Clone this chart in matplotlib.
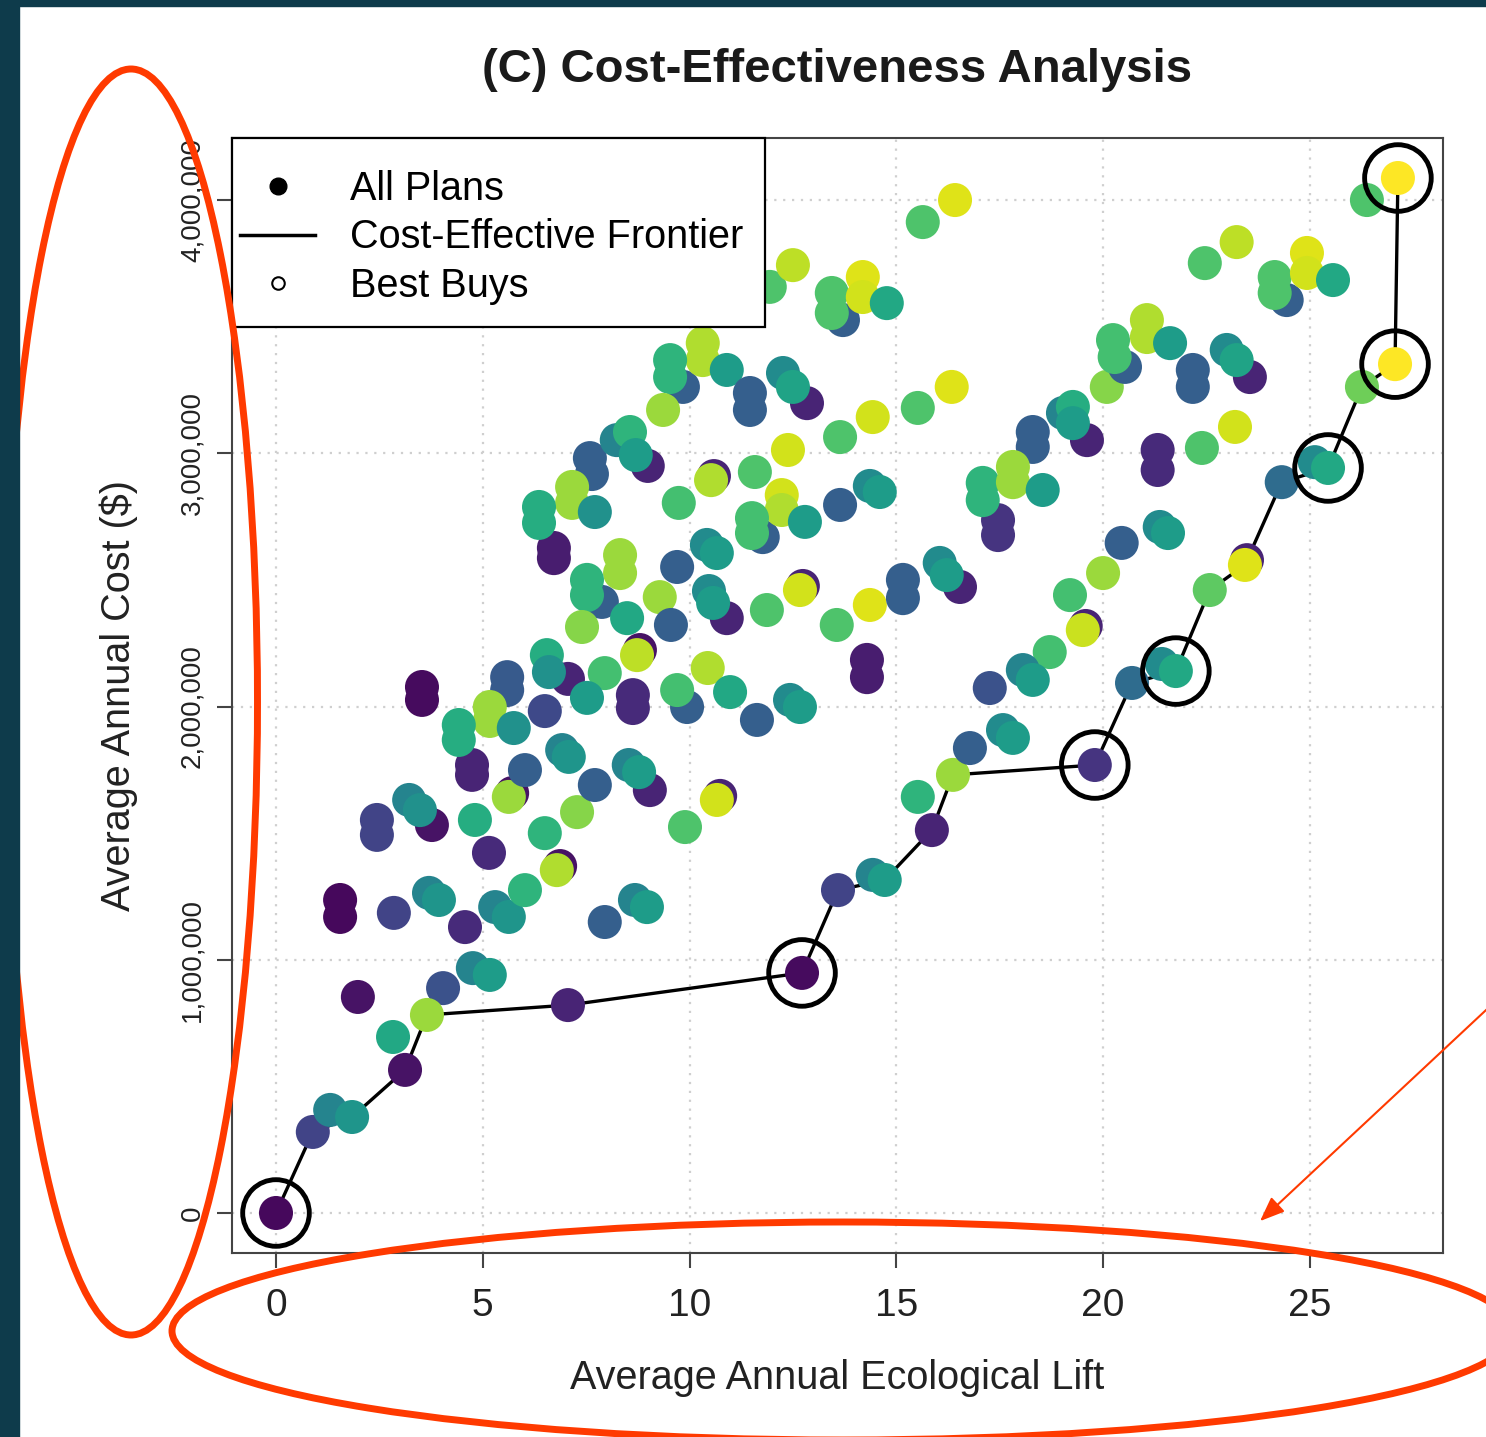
import numpy as np
import matplotlib.pyplot as plt
from matplotlib.lines import Line2D
from matplotlib.patches import Ellipse, Rectangle
from matplotlib.ticker import FuncFormatter

plt.rcParams['font.family'] = ['Liberation Sans', 'DejaVu Sans']

# every plan: ecological lift, annual cost (million $), colour value (viridis 0..1)
lift = [
    # near the frontier
    0.00, 0.89, 1.31, 1.84, 2.83, 3.12, 4.04, 3.65, 4.76, 5.17,
    7.06, 12.72, 13.59, 14.43, 14.72, 15.86, 15.52, 16.37, 16.78, 17.58,
    17.82, 19.80, 20.70, 21.42, 21.76, 22.58, 23.48, 23.43, 24.32, 25.12,
    25.44, 26.26, 27.06, 26.38, 27.13,
    # lower left
    1.55, 1.55, 1.98, 2.85, 3.70, 3.94, 4.57, 5.30, 5.63, 6.02,
    6.87, 6.79, 6.50, 7.28, 7.95, 8.68, 8.97, 5.15, 4.81, 5.71,
    5.63, 2.44, 2.44, 3.77, 3.22, 3.48, 9.89, 10.74, 10.66,
    # middle left
    3.53, 3.53, 5.59, 5.59, 7.06, 6.55, 6.60, 7.95, 8.63, 8.63,
    6.50, 7.52, 4.74, 4.74, 5.17, 5.17, 4.42, 4.42, 5.75, 6.02,
    6.92, 7.08, 7.71, 9.04, 8.53, 8.78, 8.80, 8.73,
    # middle
    9.94, 9.70, 10.44, 10.98, 11.63, 12.43, 12.67, 11.87, 12.74, 12.67,
    13.56, 14.36, 15.16, 15.16, 16.54, 16.05, 16.22, 14.29, 14.29, 9.70,
    10.90, 10.47, 10.57, 10.42, 10.66, 9.28, 9.55,
    # upper middle
    7.59, 7.64, 8.99, 8.24, 8.56, 8.70, 7.16, 7.16, 7.71, 6.72,
    6.72, 6.36, 6.36, 7.88, 8.32, 8.32, 7.52, 7.52, 7.40, 8.49,
    9.74, 10.59, 10.52, 11.58, 12.38, 11.77, 12.23, 12.23, 11.51, 11.51,
    12.79, 13.64, 14.36, 14.60, 13.64, 14.43, 15.52, 16.34,
    9.84, 10.32, 10.32, 9.53, 9.53, 10.90, 9.36, 11.46, 11.46, 12.84, 12.26, 12.50,
    11.94, 12.50, 13.71, 13.44, 13.44, 14.19, 14.19, 14.77, 15.64, 16.42,
    # right
    17.46, 17.46, 17.09, 17.09, 18.30, 18.30, 17.82, 17.82, 18.54, 19.61,
    19.03, 19.27, 19.27, 20.09, 20.53, 20.24, 20.28, 21.06, 21.06, 21.62,
    22.17, 22.17, 23.55, 22.99, 23.23, 21.32, 21.32, 22.39, 23.19, 20.45,
    21.37, 21.57,
    20.00, 19.20, 19.58, 19.51, 18.71, 18.06, 18.30, 17.26,
    24.44, 22.46, 23.23, 24.15, 24.15, 24.93, 24.93, 25.56,
]
cost = [
    0.000, 0.320, 0.407, 0.379, 0.695, 0.565, 0.888, 0.782, 0.967, 0.940,
    0.821, 0.948, 1.275, 1.335, 1.315, 1.512, 1.643, 1.730, 1.836, 1.907,
    1.876, 1.769, 2.093, 2.168, 2.140, 2.460, 2.578, 2.559, 2.886, 2.965,
    2.942, 3.262, 3.352, 4.000, 4.087,
    1.236, 1.169, 0.853, 1.185, 1.264, 1.236, 1.129, 1.208, 1.169, 1.275,
    1.370, 1.354, 1.500, 1.583, 1.149, 1.236, 1.208, 1.422, 1.552, 1.658,
    1.643, 1.552, 1.493, 1.532, 1.631, 1.591, 1.524, 1.647, 1.631,
    2.077, 2.026, 2.116, 2.065, 2.109, 2.203, 2.136, 2.132, 2.045, 1.994,
    1.982, 2.034, 1.769, 1.730, 1.998, 1.943, 1.927, 1.868, 1.915, 1.749,
    1.828, 1.801, 1.690, 1.670, 1.769, 1.741, 2.223, 2.203,
    1.998, 2.065, 2.152, 2.057, 1.947, 2.026, 1.998, 2.381, 2.476, 2.460,
    2.322, 2.401, 2.500, 2.428, 2.472, 2.567, 2.519, 2.184, 2.116, 2.551,
    2.349, 2.456, 2.409, 2.638, 2.606, 2.432, 2.322,
    2.981, 2.918, 2.950, 3.052, 3.084, 2.993, 2.867, 2.804, 2.768, 2.626,
    2.586, 2.788, 2.725, 2.413, 2.598, 2.527, 2.500, 2.440, 2.314, 2.349,
    2.804, 2.910, 2.894, 2.926, 3.013, 2.669, 2.835, 2.776, 2.744, 2.685,
    2.729, 2.796, 2.871, 2.847, 3.064, 3.143, 3.179, 3.262,
    3.262, 3.435, 3.368, 3.368, 3.301, 3.329, 3.171, 3.238, 3.171, 3.198, 3.317, 3.262,
    3.657, 3.743, 3.526, 3.633, 3.554, 3.696, 3.617, 3.593, 3.913, 4.000,
    2.736, 2.677, 2.883, 2.815, 3.084, 3.025, 2.946, 2.886, 2.855, 3.052,
    3.159, 3.183, 3.119, 3.262, 3.341, 3.447, 3.380, 3.526, 3.459, 3.435,
    3.329, 3.262, 3.301, 3.408, 3.368, 3.013, 2.934, 3.021, 3.104, 2.646,
    2.709, 2.685,
    2.527, 2.440, 2.318, 2.302, 2.215, 2.144, 2.105, 2.073,
    3.605, 3.751, 3.834, 3.696, 3.633, 3.791, 3.712, 3.684,
]
shade = [
    0.02, 0.20, 0.45, 0.52, 0.60, 0.05, 0.25, 0.85, 0.45, 0.55,
    0.10, 0.03, 0.20, 0.45, 0.55, 0.10, 0.65, 0.85, 0.30, 0.48,
    0.55, 0.15, 0.35, 0.48, 0.60, 0.75, 0.10, 0.95, 0.35, 0.48,
    0.60, 0.78, 1.00, 0.72, 1.00,
    0.02, 0.02, 0.05, 0.20, 0.45, 0.52, 0.12, 0.45, 0.52, 0.65,
    0.05, 0.88, 0.65, 0.82, 0.30, 0.45, 0.55, 0.12, 0.62, 0.05,
    0.85, 0.20, 0.20, 0.05, 0.45, 0.50, 0.72, 0.10, 0.93,
    0.03, 0.03, 0.28, 0.28, 0.10, 0.62, 0.50, 0.70, 0.12, 0.12,
    0.22, 0.55, 0.10, 0.10, 0.85, 0.85, 0.62, 0.62, 0.50, 0.30,
    0.45, 0.52, 0.30, 0.10, 0.45, 0.55, 0.05, 0.90,
    0.30, 0.70, 0.88, 0.60, 0.30, 0.48, 0.55, 0.72, 0.10, 0.93,
    0.72, 0.95, 0.30, 0.30, 0.10, 0.48, 0.55, 0.08, 0.08, 0.30,
    0.10, 0.48, 0.55, 0.48, 0.55, 0.85, 0.30,
    0.30, 0.30, 0.10, 0.45, 0.65, 0.55, 0.85, 0.85, 0.50, 0.08,
    0.08, 0.62, 0.62, 0.30, 0.85, 0.85, 0.65, 0.65, 0.82, 0.60,
    0.70, 0.10, 0.88, 0.72, 0.93, 0.30, 0.93, 0.88, 0.70, 0.70,
    0.55, 0.30, 0.48, 0.55, 0.72, 0.93, 0.72, 0.95,
    0.30, 0.88, 0.88, 0.65, 0.65, 0.55, 0.85, 0.30, 0.30, 0.10, 0.48, 0.58,
    0.72, 0.90, 0.30, 0.72, 0.72, 0.95, 0.93, 0.60, 0.72, 0.95,
    0.15, 0.15, 0.65, 0.65, 0.30, 0.30, 0.85, 0.85, 0.55, 0.10,
    0.45, 0.62, 0.55, 0.82, 0.30, 0.70, 0.70, 0.88, 0.88, 0.55,
    0.30, 0.30, 0.10, 0.48, 0.58, 0.12, 0.12, 0.72, 0.93, 0.30,
    0.48, 0.55,
    0.85, 0.70, 0.10, 0.92, 0.70, 0.45, 0.55, 0.25,
    0.30, 0.72, 0.90, 0.72, 0.72, 0.95, 0.93, 0.60,
]

# cost-effective frontier
frontier_lift = [0.00, 0.89, 1.84, 3.12, 3.65, 7.06, 12.72, 13.59, 14.72, 15.86, 16.37,
                 19.80, 20.70, 21.76, 22.58, 23.43, 24.32, 25.44, 26.26, 27.06, 27.13]
frontier_cost = [0.000, 0.320, 0.379, 0.565, 0.782, 0.821, 0.948, 1.275, 1.315, 1.512, 1.730,
                 1.769, 2.093, 2.140, 2.460, 2.559, 2.886, 2.942, 3.262, 3.352, 4.087]

# best buys
best_lift = [0.00, 12.72, 19.80, 21.76, 25.44, 27.06, 27.13]
best_cost = [0.000, 0.948, 1.769, 2.140, 2.942, 3.352, 4.087]

x_ticks = [0, 5, 10, 15, 20, 25]
y_ticks = [0, 1000000, 2000000, 3000000, 4000000]

W, H = 1486, 1437
fig = plt.figure(figsize=(W / 100, H / 100), dpi=100)

# dark frame strips of the slide
fig.patches.append(Rectangle((0, 0), 19 / W, 1, transform=fig.transFigure,
                             color='#0e3b4b', zorder=0))
fig.patches.append(Rectangle((0, 1 - 6 / H), 1, 6 / H, transform=fig.transFigure,
                             color='#0e3b4b', zorder=0))

ax = fig.add_axes([232 / W, 1 - 1253 / H, (1443 - 232) / W, (1253 - 138) / H])

scale = 1e6
ax.plot(np.array(frontier_lift), np.array(frontier_cost) * scale, color='black', lw=2.4, zorder=2)
ax.scatter(lift, np.array(cost) * scale, c=shade, cmap='viridis', vmin=0, vmax=1,
           s=600, linewidths=0, zorder=3)
ax.scatter(best_lift, np.array(best_cost) * scale, s=2300, facecolors='none',
           edgecolors='black', linewidths=3.5, zorder=4)

ax.set_xlim(-1.064, 28.22)
ax.set_ylim(-0.158e6, 4.245e6)
ax.set_xticks(x_ticks)
ax.set_yticks(y_ticks)
ax.yaxis.set_major_formatter(FuncFormatter(lambda v, p: f'{int(v):,}'))
ax.grid(True, color='#cfcfcf', linestyle=(0, (1, 3)), lw=1.6, zorder=0)
ax.set_axisbelow(True)

for s in ax.spines.values():
    s.set_color('#444444')
    s.set_linewidth(1.5)

ax.tick_params(axis='x', labelsize=28, length=11, width=1.5, color='#444444',
               pad=14, labelcolor='#222222')
ax.tick_params(axis='y', labelsize=20, length=11, width=1.5, color='#444444',
               pad=8, labelcolor='#222222')
for lab in ax.get_yticklabels():
    lab.set_rotation(90)
    lab.set_va('center')

ax.set_xlabel('Average Annual Ecological Lift', fontsize=28.5, color='#222222')
ax.xaxis.set_label_coords(0.5, -0.095)
ax.set_ylabel('Average Annual Cost ($)', fontsize=28.5, color='#222222')
ax.yaxis.set_label_coords(-0.078, 0.5)
ax.set_title('(C) Cost-Effectiveness Analysis', fontsize=34, fontweight='bold',
             color='#1a1a1a', pad=40)

# legend box drawn separately so its padding can differ per side
ax.add_patch(Rectangle((0, 0.8305), 0.4401, 0.1695, transform=ax.transAxes,
                       facecolor='white', edgecolor='black', lw=1.6, zorder=5,
                       clip_on=False))
handles = [
    Line2D([], [], marker='o', color='black', ls='none', markersize=12),
    Line2D([], [], color='black', lw=2.5),
    Line2D([], [], marker='o', mfc='none', mec='black', ls='none', markersize=9, mew=1.5),
]
leg = ax.legend(handles, ['All Plans', 'Cost-Effective Frontier', 'Best Buys'],
                loc='upper left', bbox_to_anchor=(0.0066, 0.9715), fontsize=28.5,
                frameon=False, borderaxespad=0, borderpad=0,
                labelspacing=0.27, handlelength=1.9, handletextpad=0.88)
leg.set_zorder(6)

# red annotation marks on the slide
over = fig.add_axes([0, 0, 1, 1], facecolor='none')
over.set_xlim(0, W)
over.set_ylim(H, 0)
over.axis('off')
red = '#ff3a00'
over.add_patch(Ellipse((131, 702), 253, 1266, fill=False, edgecolor=red, lw=5))
over.add_patch(Ellipse((843, 1331), 1342, 218, fill=False, edgecolor=red, lw=5))
over.annotate('', xy=(1258, 1223), xytext=(1500, 997),
              arrowprops=dict(arrowstyle='-|>,head_length=1.5,head_width=0.6',
                              color=red, lw=1.5))

fig.savefig('out.png', dpi=100)
